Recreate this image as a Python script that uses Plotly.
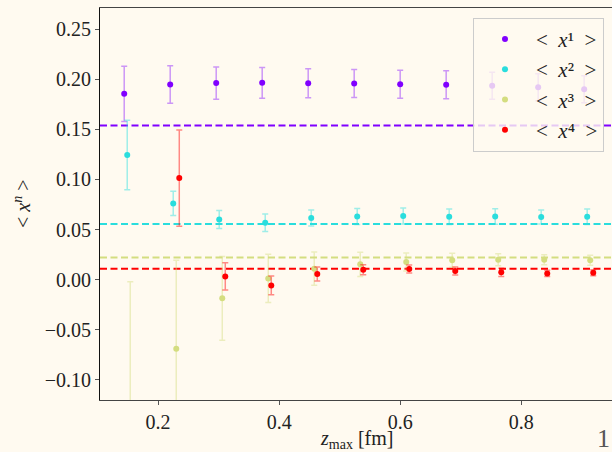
import plotly.graph_objects as go

# ---- data ----
x1 = [0.144, 0.220, 0.296, 0.372, 0.448, 0.524, 0.600, 0.676, 0.752, 0.828, 0.904]
y1 = [0.1854, 0.1947, 0.1961, 0.1964, 0.1960, 0.1957, 0.1950, 0.1944, 0.1934, 0.1920, 0.1900]
e1 = [0.0275, 0.0187, 0.0160, 0.0153, 0.0145, 0.0140, 0.0140, 0.0140, 0.0135, 0.0135, 0.0135]

x2 = [0.149, 0.225, 0.301, 0.377, 0.453, 0.529, 0.605, 0.681, 0.757, 0.833, 0.909]
y2 = [0.1243, 0.0761, 0.0601, 0.0568, 0.0615, 0.0631, 0.0635, 0.0628, 0.0631, 0.0625, 0.0628]
e2 = [0.0347, 0.0120, 0.0090, 0.0088, 0.0080, 0.0080, 0.0080, 0.0077, 0.0077, 0.0070, 0.0077]

x3 = [0.154, 0.230, 0.306, 0.382, 0.458, 0.534, 0.610, 0.686, 0.762, 0.838, 0.914]
y3 = [-0.170, -0.0688, -0.0186, 0.0013, 0.0110, 0.0153, 0.0176, 0.0193, 0.0200, 0.0200, 0.0193]
e3 = [0.168, 0.0881, 0.0417, 0.0240, 0.0165, 0.0120, 0.0090, 0.0070, 0.0060, 0.0050, 0.0050]

x4 = [0.235, 0.311, 0.387, 0.463, 0.539, 0.615, 0.691, 0.767, 0.843, 0.919]
y4 = [0.1014, 0.0033, -0.0057, 0.0057, 0.0100, 0.0107, 0.0087, 0.0073, 0.0063, 0.0070]
e4 = [0.0480, 0.0135, 0.0093, 0.0070, 0.0050, 0.0040, 0.0040, 0.0040, 0.0030, 0.0030]

ref_vals = [0.1538, 0.0556, 0.0222, 0.0110]

names = ["&lt;&nbsp;&nbsp;<i>x</i>¹&nbsp;&nbsp;&gt;", "&lt;&nbsp;&nbsp;<i>x</i>²&nbsp;&nbsp;&gt;",
         "&lt;&nbsp;&nbsp;<i>x</i>³&nbsp;&nbsp;&gt;", "&lt;&nbsp;&nbsp;<i>x</i>⁴&nbsp;&nbsp;&gt;"]
colors = ["#8000ff", "#2adddd", "#d4dd80", "#ff0000"]
err_colors = ["rgba(128,0,255,0.4)", "rgba(42,221,221,0.45)",
              "rgba(212,221,128,0.45)", "rgba(255,0,0,0.45)"]

BG = "#fffaf0"
FONT = "Liberation Serif"

fig = go.Figure()
series = [(x1, y1, e1), (x2, y2, e2), (x3, y3, e3), (x4, y4, e4)]
for i, (xs, ys, es) in enumerate(series):
    fig.add_trace(go.Scatter(
        x=xs, y=ys, mode="markers", name=names[i], legendgroup=str(i),
        marker=dict(color=colors[i], size=6),
        error_y=dict(type="data", array=es, visible=True, color=err_colors[i],
                     thickness=1.5, width=3),
    ))

for v, c in zip(ref_vals, colors):
    fig.add_hline(y=v, line=dict(color=c, width=2, dash="7px,3.5px"), layer="below")

fig.update_layout(
    width=612, height=452,
    margin=dict(l=100, r=0, t=8, b=52),
    paper_bgcolor=BG, plot_bgcolor=BG,
    font=dict(family=FONT, size=20, color="#222"),
    showlegend=True,
    legend=dict(x=0.7285, y=0.975, xanchor="left", yanchor="top",
                bgcolor="rgba(255,250,240,0.8)", bordercolor="#cccccc", borderwidth=1,
                font=dict(family=FONT, size=21), tracegroupgap=0,
                itemwidth=52),
    xaxis=dict(range=[0.104, 0.950], tickvals=[0.2, 0.4, 0.6, 0.8],
               ticktext=["0.2", "0.4", "0.6", "0.8"],
               showgrid=False, zeroline=False, ticks="outside", ticklen=4,
               tickcolor="#555", showline=True, linecolor="#444", linewidth=1,
               mirror=True),
    yaxis=dict(range=[-0.12, 0.271], tickvals=[-0.10, -0.05, 0.0, 0.05, 0.10, 0.15, 0.20, 0.25],
               tickformat=".2f", showgrid=False, zeroline=False, ticks="outside",
               ticklen=4, tickcolor="#555", showline=True, linecolor="#111", linewidth=1),
)

fig.add_annotation(text="&lt;&nbsp;<i>x</i><sup><i>n</i></sup>&nbsp;&gt;", textangle=-90,
                   xref="paper", yref="paper", x=(22 - 100) / 512, y=0.5,
                   xanchor="center", yanchor="middle",
                   showarrow=False, font=dict(family=FONT, size=20, color="#222"))
fig.add_annotation(text="<i>z</i><sub>max</sub> [fm]",
                   xref="paper", yref="paper", x=0.5, y=-(440 - 400) / 392,
                   xanchor="center", yanchor="middle",
                   showarrow=False, font=dict(family=FONT, size=20, color="#222"))
fig.add_annotation(text="1", xref="paper", yref="paper", x=(603 - 100) / 512,
                   y=-(438 - 400) / 392, xanchor="center", yanchor="middle",
                   showarrow=False,
                   font=dict(family=FONT, size=26, color="#555"))

fig.write_html("out.html")
